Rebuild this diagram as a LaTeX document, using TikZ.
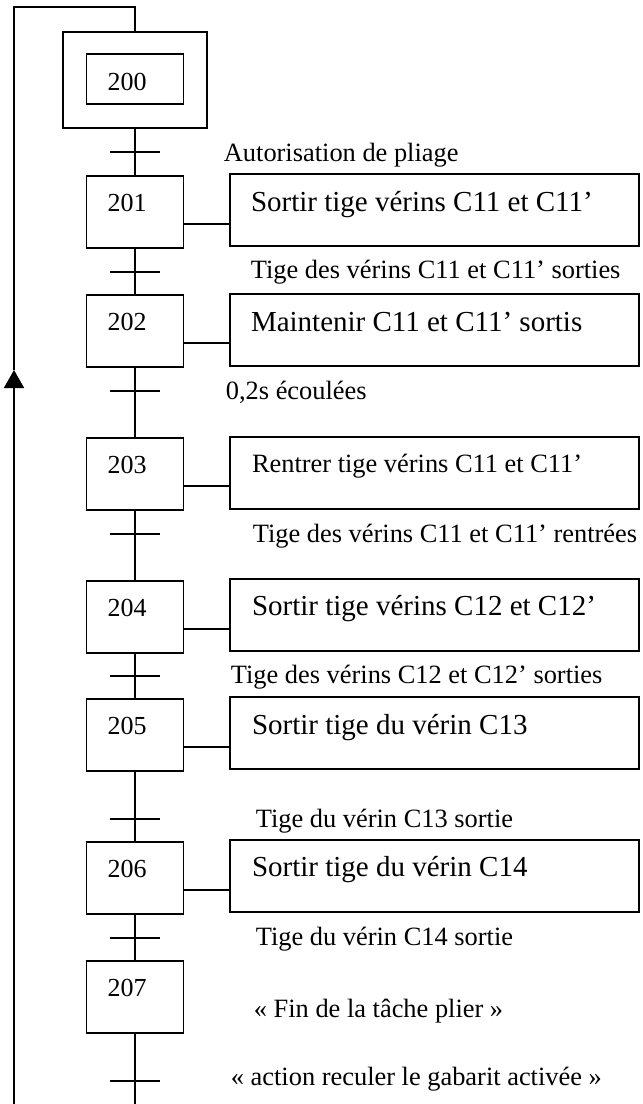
\documentclass[tikz,border=0pt]{standalone}
\usepackage{fontspec}
\setmainfont{Liberation Serif}
\usetikzlibrary{arrows.meta}

\begin{document}
\begin{tikzpicture}[x=1pt, y=-1pt, line width=1.8pt,
  etape/.style={draw, minimum width=97pt, minimum height=72pt, inner sep=0pt},
  action/.style={draw, minimum width=409pt, minimum height=72pt, inner sep=0pt},
  num/.style={anchor=base west, inner sep=0pt, font=\fontsize{26}{30}\selectfont},
  txt/.style={anchor=base west, inner sep=0pt, font=\fontsize{29}{34}\selectfont},
  recept/.style={anchor=base west, inner sep=0pt, font=\fontsize{26.4}{30}\selectfont}]

  \useasboundingbox (0,0) rectangle (643,1104);

  % Initial step
  \node[draw, minimum width=144pt, minimum height=96pt, inner sep=0pt] (s200o) at (135,80) {};
  \node[etape, minimum height=50pt] (s200) at (135,79) {};
  \node[num] (n200) at ([xshift=21pt,yshift=-37pt]s200.north west) {200};

  % Steps
  \foreach \n/\y in {201/212, 202/331, 203/474, 204/617, 205/735, 206/878, 207/997} {
    \node[etape] (s\n) at (135,\y) {};
    \node[num] (n\n) at ([xshift=21pt,yshift=-36pt]s\n.north west) {\n};
  }

  % Actions
  \node[action] (a201) at (434.5,210) {};
  \node[action] (a202) at (434.5,330) {};
  \node[action] (a203) at (434.5,473) {};
  \node[action] (a204) at (434.5,615) {};
  \node[action] (a205) at (434.5,733) {};
  \node[action] (a206) at (434.5,876) {};
  \node[txt] (x201) at ([xshift=21pt,yshift=-38pt]a201.north west) {Sortir tige vérins C11 et C11’};
  \node[txt] (x202) at ([xshift=21pt,yshift=-38pt]a202.north west) {Maintenir C11 et C11’ sortis};
  \node[recept] (x203) at ([xshift=22pt,yshift=-36pt]a203.north west) {Rentrer tige vérins C11 et C11’};
  \node[txt] (x204) at ([xshift=22pt,yshift=-37pt]a204.north west) {Sortir tige vérins C12 et C12’};
  \node[txt] (x205) at ([xshift=22pt,yshift=-38pt]a205.north west) {Sortir tige du vérin C13};
  \node[txt] (x206) at ([xshift=22pt,yshift=-37pt]a206.north west) {Sortir tige du vérin C14};

  % Step -- action links
  \foreach \n in {201,...,206}
    \draw ([yshift=-12pt]s\n.east) -- ([yshift=-12pt]s\n.east -| a\n.west);

  % Transitions
  \foreach \i/\y in {1/152, 2/272, 3/391, 4/534, 5/676, 6/819, 7/938, 8/1081} {
    \coordinate (t\i) at (135,\y);
    \draw ([xshift=-25pt]t\i) -- ([xshift=25pt]t\i);
  }

  % Receptivities
  \node[recept] (r1) at (223,161) {Autorisation de pliage};
  \node[recept] (r2) at (250,278) {Tige des vérins C11 et C11’ sorties};
  \node[recept] (r3) at (225,399) {0,2s écoulées};
  \node[recept] (r4) at (252,542) {Tige des vérins C11 et C11’ rentrées};
  \node[recept] (r5) at (230,683) {Tige des vérins C12 et C12’ sorties};
  \node[recept] (r6) at (255,827) {Tige du vérin C13 sortie};
  \node[recept] (r7) at (255,945) {Tige du vérin C14 sortie};
  \node[recept] (fin) at (253,1017) {« Fin de la tâche plier »};
  \node[recept] (r8) at (230,1085) {« action reculer le gabarit activée »};

  % Main chain
  \coordinate (bot) at (135,1104);
  \foreach \a/\b in {s200o/s201, s201/s202, s202/s203, s203/s204, s204/s205, s205/s206, s206/s207}
    \draw (\a.south) -- (\b.north);
  \draw (s207.south) -- (bot);

  % Loop back
  \coordinate (bl) at (14,1104);
  \coordinate (arr) at (14,370);
  \coordinate (tl) at (14,7);
  \coordinate (tm) at (135,7);
  \draw[-{Triangle[length=18pt,width=20pt]}] (bl) -- (arr);
  \draw (arr) -- (tl) -- (tm) -- (s200o.north);

\end{tikzpicture}
\end{document}
